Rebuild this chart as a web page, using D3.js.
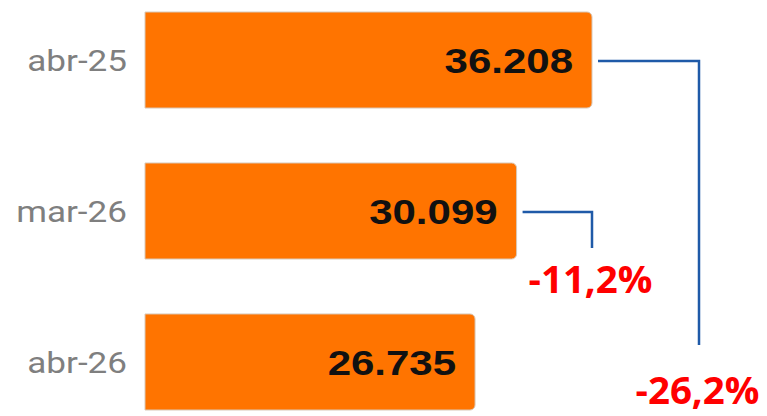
<!DOCTYPE html>
<html lang="es">
<head>
<meta charset="UTF-8">
<title>abr-25 vs abr-26</title>
<script src="https://cdn.jsdelivr.net/npm/d3@7"></script>
<style>
  body { margin: 0; background: #fff; }
</style>
</head>
<body>
<script>
  // data
  var months = ['abr-25', 'mar-26', 'abr-26'];
  var totals = [36208, 30099, 26735];
  var changeLabels = ['-11,2%', '-26,2%'];   // mar-26 vs abr-26, abr-25 vs abr-26
  var changeFrom = ['mar-26', 'abr-25'];

  var w = 767, h = 416;
  var stretch = 1.17; // text in the picture is a bit wide

  var es = d3.formatLocale({ decimal: ',', thousands: '.', grouping: [3], currency: ['', ''] });
  var fmt = es.format(',d');

  var svg = d3.select('body').append('svg')
    .attr('width', w)
    .attr('height', h);

  var y = d3.scaleBand()
    .domain(months)
    .range([12, 410])
    .paddingInner(0.364)
    .paddingOuter(0);

  var x = d3.scaleLinear()
    .domain([0, d3.max(totals)])
    .range([145, 592]);

  // bar with rounded right corners only
  function barPath(x0, x1, y0, hh, r) {
    var p = d3.path();
    p.moveTo(x0, y0);
    p.lineTo(x1 - r, y0);
    p.arcTo(x1, y0, x1, y0 + r, r);
    p.lineTo(x1, y0 + hh - r);
    p.arcTo(x1, y0 + hh, x1 - r, y0 + hh, r);
    p.lineTo(x0, y0 + hh);
    p.closePath();
    return p.toString();
  }

  svg.selectAll('path.bar')
    .data(totals)
    .enter()
    .append('path')
    .attr('class', 'bar')
    .attr('d', (d, i) => barPath(x(0), x(d), y(months[i]), y.bandwidth(), 5))
    .attr('fill', '#ff7400')
    .attr('stroke', '#d8c8b8')
    .attr('stroke-width', 1);

  // month labels
  svg.selectAll('g.cat')
    .data(months)
    .enter()
    .append('g')
    .attr('class', 'cat')
    .attr('transform', d => `translate(${x(0) - 18},${y(d) + y.bandwidth() / 2}) scale(${stretch},1)`)
    .append('text')
    .attr('text-anchor', 'end')
    .attr('dy', '0.36em')
    .attr('font-family', 'Roboto, sans-serif')
    .attr('font-size', '30px')
    .attr('fill', '#7f7f7f')
    .text(d => d);

  // values inside bars
  svg.selectAll('g.val')
    .data(totals)
    .enter()
    .append('g')
    .attr('class', 'val')
    .attr('transform', (d, i) => `translate(${x(d) - 19},${y(months[i]) + y.bandwidth() / 2}) scale(1.2,1)`)
    .append('text')
    .attr('text-anchor', 'end')
    .attr('dy', '0.36em')
    .attr('font-family', '"Liberation Sans", Arial, sans-serif')
    .attr('font-weight', 'bold')
    .attr('font-size', '35px')
    .attr('fill', '#111')
    .text(d => fmt(d));

  // connectors
  var colX = [592, 699];
  var lineEnd = [248, 345];
  var labelY = [293, 404];
  var blue = '#1f5aa8';

  changeFrom.forEach(function(m, i) {
    var v = totals[months.indexOf(m)];
    var yy = y(m) + y.bandwidth() / 2 + 1;
    svg.append('path')
      .attr('d', `M${x(v) + 6},${yy}H${colX[i]}V${lineEnd[i]}`)
      .attr('fill', 'none')
      .attr('stroke', blue)
      .attr('stroke-width', 2.5);

    svg.append('g')
      .attr('transform', `translate(${colX[i] - 1.5},${labelY[i]}) scale(1.04,1)`)
      .append('text')
      .attr('text-anchor', 'middle')
      .attr('font-family', '"Open Sans", sans-serif')
      .attr('font-weight', 'bold')
      .attr('font-size', '37px')
      .attr('fill', '#ff0000')
      .text(changeLabels[i]);
  });
</script>
</body>
</html>
